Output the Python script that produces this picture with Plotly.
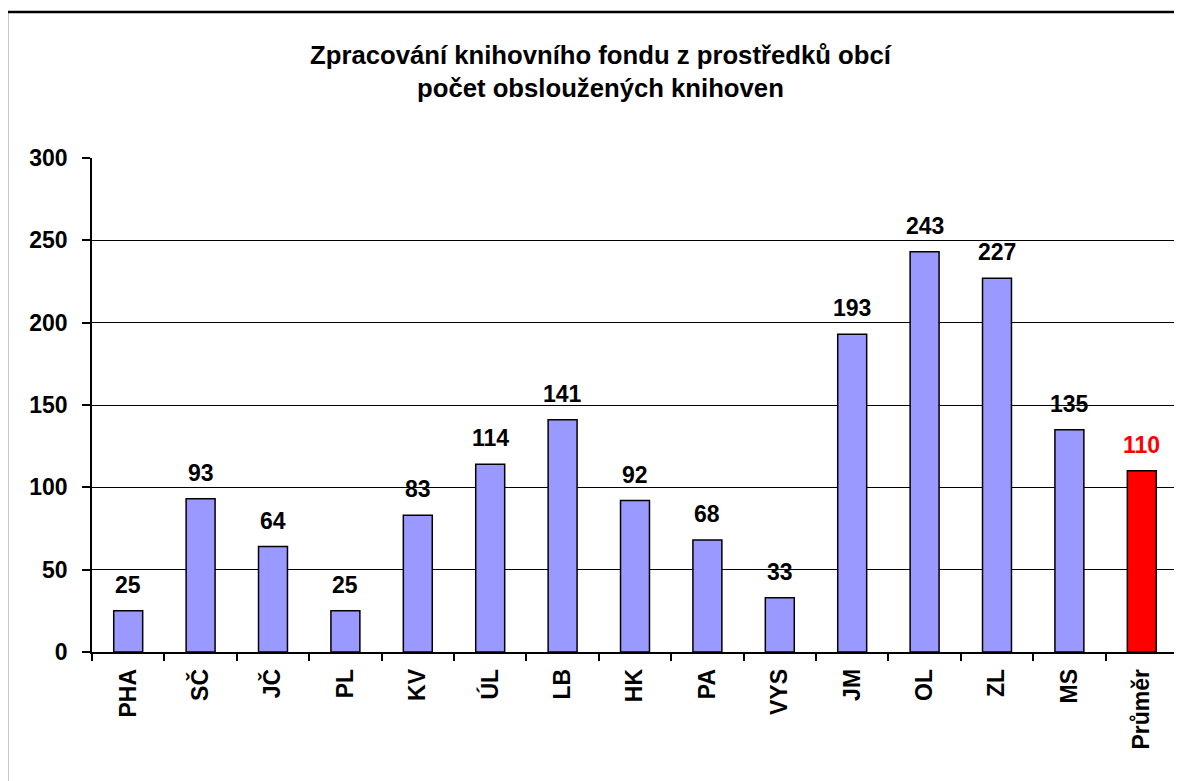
import plotly.graph_objects as go

categories = ["PHA", "SČ", "JČ", "PL", "KV", "ÚL", "LB", "HK", "PA", "VYS", "JM", "OL", "ZL", "MS", "Průměr"]
values = [25, 93, 64, 25, 83, 114, 141, 92, 68, 33, 193, 243, 227, 135, 110]
bar_colors = ["#9999FF"] * 14 + ["#FF0000"]
label_colors = ["#000000"] * 14 + ["#FF0000"]
title_lines = ["Zpracování knihovního fondu z prostředků obcí", "počet obsloužených knihoven"]
y_ticks = [0, 50, 100, 150, 200, 250, 300]

FONT = "Liberation Sans, Arial, sans-serif"

fig = go.Figure()
fig.add_trace(go.Bar(
    x=categories, y=values,
    marker=dict(color=bar_colors, line=dict(color="#000000", width=1.5)),
    width=0.4,
    hoverinfo="x+y",
))

for c, v, col in zip(categories, values, label_colors):
    fig.add_annotation(
        x=c, y=v, xref="x", yref="y",
        text="<b>%d</b>" % v, showarrow=False,
        yanchor="bottom", yshift=11,
        font=dict(family=FONT, size=23, color=col),
    )

fig.add_annotation(
    x=0.4687, y=1.176, xref="paper", yref="paper",
    text="<b>" + "<br>".join(title_lines) + "</b>",
    showarrow=False, xanchor="center", yanchor="middle",
    font=dict(family=FONT, size=25.7, color="#000000"),
)

fig.update_layout(
    width=1174, height=773,
    margin=dict(l=84, r=4, t=150, b=129),
    paper_bgcolor="white", plot_bgcolor="white",
    showlegend=False,
    bargap=0.6,
    font=dict(family=FONT),
)

fig.update_xaxes(
    type="category",
    tickson="boundaries",
    ticks="outside", ticklen=7, tickwidth=1.5, tickcolor="#000000",
    showline=True, linecolor="#000000", linewidth=1.5,
    showgrid=False,
    tickangle=-90,
    tickfont=dict(family=FONT, size=23, color="#000000", weight="bold"),
    ticklabelstandoff=6,
)
fig.update_yaxes(
    range=[0, 300],
    tickvals=y_ticks,
    ticks="outside", ticklen=8, tickwidth=1.5, tickcolor="#000000",
    showline=True, linecolor="#000000", linewidth=1.5,
    showgrid=True, gridcolor="#000000", gridwidth=1.2,
    zeroline=False,
    tickfont=dict(family=FONT, size=23, color="#000000", weight="bold"),
    ticklabelstandoff=10,
)

# plot area right border (grey)
fig.add_shape(type="line", xref="paper", yref="paper", x0=1, x1=1, y0=0, y1=1,
              line=dict(color="#999999", width=1.5))
# outer chart border
fig.add_shape(type="rect", xref="paper", yref="paper",
              x0=-0.0783, x1=1.1, y0=-0.5, y1=1.2955,
              line=dict(color="#000000", width=2.5))

fig.write_html("out.html")
